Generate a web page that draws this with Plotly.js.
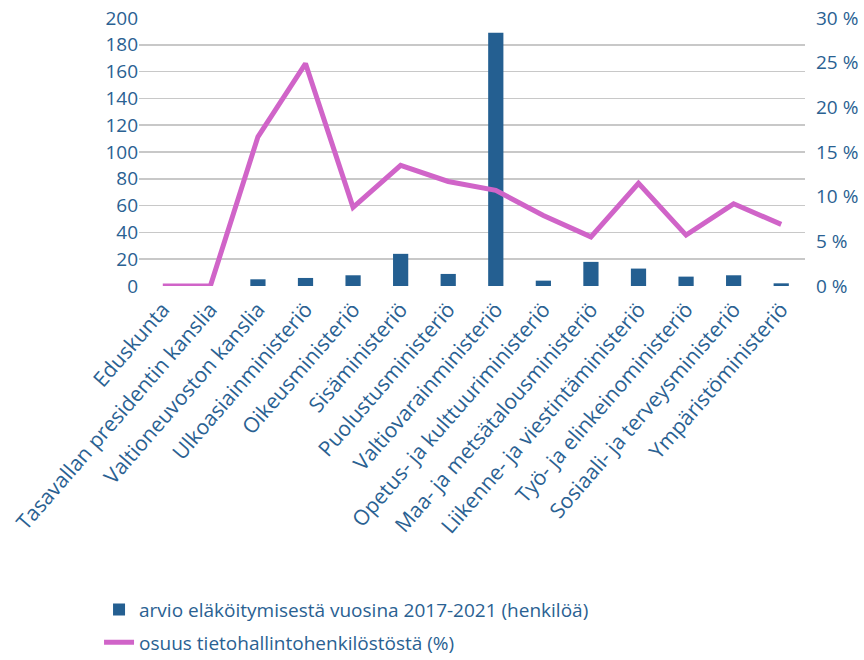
<!DOCTYPE html>
<html><head><meta charset="utf-8">
<script src="https://cdn.plot.ly/plotly-3.0.1.min.js"></script>
<style>body{margin:0;background:#fff}#chart{width:864px;height:660px}</style>
</head><body><div id="chart"></div>
<script>
const categories = ["Eduskunta","Tasavallan presidentin kanslia","Valtioneuvoston kanslia","Ulkoasiainministeriö","Oikeusministeriö","Sisäministeriö","Puolustusministeriö","Valtiovarainministeriö","Opetus- ja kulttuuriministeriö","Maa- ja metsätalousministeriö","Liikenne- ja viestintäministeriö","Työ- ja elinkeinoministeriö","Sosiaali- ja terveysministeriö","Ympäristöministeriö"];
const retirements = [0,0,5,6,8,24,9,189,4,18,13,7,8,2];
const sharePct = [0,0,16.7,24.9,8.8,13.5,11.7,10.7,7.9,5.5,11.5,5.7,9.2,6.9];
const leftTicks = [0,20,40,60,80,100,120,140,160,180,200];
const rightTicks = [0,5,10,15,20,25,30];

const blue = "#245f91", pink = "#d064c8", txt = "#2a6192";
const fam = "Open Sans, Noto Sans, sans-serif";
const font = {family:fam, size:19, color:txt};

Plotly.newPlot("chart", [
  {type:"bar", name:"arvio eläköitymisestä vuosina 2017-2021 (henkilöä)", legendgroup:"a", x:categories, y:retirements, marker:{color:blue}, width:0.32},
  {type:"scatter", mode:"lines", name:"osuus tietohallintohenkilöstöstä (%)", legendgroup:"b", x:categories, y:sharePct, yaxis:"y2", line:{color:pink, width:5}}
], {
  width:864, height:660,
  margin:{l:139, r:59, t:18, b:374},
  paper_bgcolor:"#fff", plot_bgcolor:"#fff",
  font:font,
  showlegend:true,
  legend:{orientation:"v", x:-0.06, xanchor:"left", yref:"container", y:0.105, yanchor:"top", font:{family:fam, size:19, color:txt}, tracegroupgap:5},
  xaxis:{tickangle:-49, tickfont:{family:fam, size:21, color:txt}, showgrid:false, showline:false, ticks:"", ticklabelstandoff:6, automargin:false},
  yaxis:{range:[0,200], tickvals:leftTicks, showgrid:true, gridcolor:"#c8c8c8", gridwidth:1.5, zeroline:false, tickfont:font, ticks:"", automargin:false},
  yaxis2:{range:[0,30], overlaying:"y", side:"right", tickvals:rightTicks, ticktext:rightTicks.map(v=>v+" %"), showgrid:false, zeroline:false, tickfont:font, ticks:"", ticklabelstandoff:10, automargin:false}
}, {displayModeBar:false, staticPlot:true});
</script></body></html>
